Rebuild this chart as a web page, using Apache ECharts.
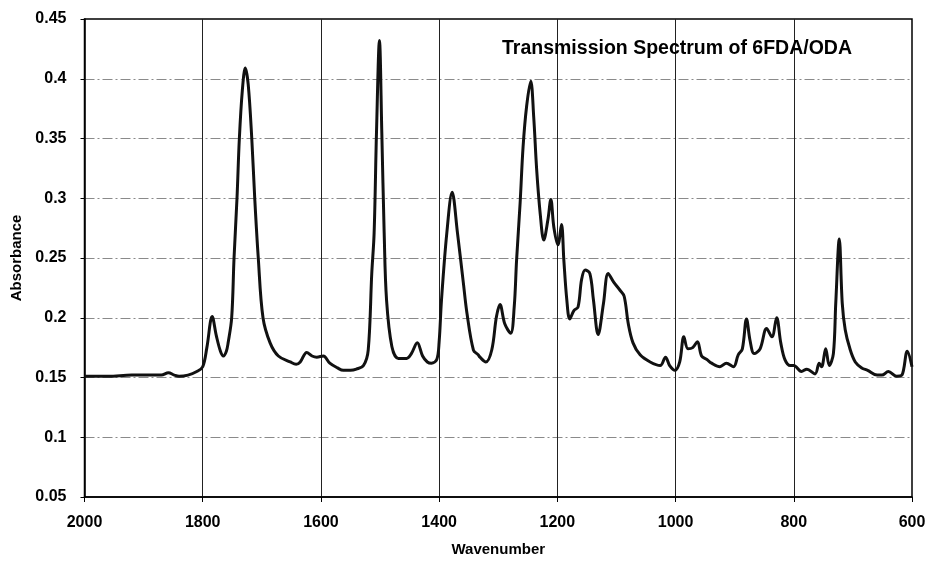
<!DOCTYPE html>
<html>
<head>
<meta charset="utf-8">
<script src="https://cdn.jsdelivr.net/npm/echarts@6/dist/echarts.min.js"></script>
<style>
html,body{margin:0;padding:0;background:#fff;}
#chart{width:925px;height:564px;}
</style>
</head>
<body>
<div id="chart"></div>
<script>
var chartTitle = "Transmission Spectrum of 6FDA/ODA";
var xAxisName = "Wavenumber";
var yAxisName = "Absorbance";

var wavenumbers = [2000,1960,1920,1890,1870,1858,1848,1840,1825,1810,1800,1793,1784,1777,1770,1765,1760,1757,1751,1747,1742,1738,1733,1728,1723,1717,1712,1706,1698,1686,1672,1652,1642,1635,1624,1615,1607,1596,1585,1572,1562,1550,1540,1528,1520,1514,1510,1506,1501,1497,1493,1489,1480,1469,1455,1447,1437,1428,1420,1413,1404,1400,1396,1387,1378,1369,1359,1353,1342,1334,1331,1321,1311,1303,1297,1289,1279,1273,1269,1263,1258,1252,1245,1240,1235,1229,1223,1216,1211,1206,1199,1193,1189,1184,1179,1172,1165,1159,1153,1145,1139,1131,1122,1114,1105,1094,1087,1080,1072,1060,1043,1026,1017,1010,1001,993,986,979,971,963,956,947,939,925,914,902,894,887,880,874,867,857,846,837,829,822,815,806,800,787,778,764,757,753,746,740,733,729,723,718,713,705,696,685,675,659,651,640,626,617,608,600];
var absorbance = [0.151,0.151,0.152,0.152,0.152,0.154,0.152,0.151,0.152,0.155,0.159,0.175,0.201,0.185,0.172,0.168,0.172,0.179,0.200,0.250,0.300,0.350,0.390,0.409,0.395,0.350,0.300,0.250,0.200,0.179,0.168,0.163,0.161,0.163,0.171,0.168,0.167,0.168,0.162,0.158,0.156,0.156,0.157,0.160,0.173,0.237,0.271,0.355,0.432,0.355,0.271,0.215,0.176,0.166,0.166,0.170,0.179,0.168,0.163,0.162,0.165,0.180,0.215,0.271,0.305,0.271,0.229,0.204,0.173,0.169,0.167,0.163,0.173,0.201,0.211,0.195,0.187,0.209,0.248,0.296,0.343,0.377,0.398,0.368,0.324,0.287,0.265,0.282,0.299,0.276,0.261,0.278,0.248,0.215,0.199,0.206,0.209,0.232,0.240,0.237,0.215,0.186,0.212,0.237,0.230,0.223,0.218,0.195,0.179,0.169,0.163,0.160,0.167,0.160,0.156,0.163,0.184,0.174,0.175,0.180,0.168,0.165,0.162,0.159,0.162,0.159,0.169,0.174,0.199,0.181,0.170,0.174,0.191,0.184,0.200,0.179,0.165,0.160,0.160,0.155,0.157,0.153,0.162,0.159,0.174,0.160,0.170,0.212,0.266,0.212,0.190,0.174,0.163,0.158,0.156,0.152,0.152,0.155,0.151,0.152,0.172,0.159];

var xMin = 600, xMax = 2000, xStep = 200;
var yMin = 0.05, yMax = 0.45, yStep = 0.05;

var seriesData = wavenumbers.map(function (w, i) { return [w, absorbance[i]]; });

var chart = echarts.init(document.getElementById('chart'), null, {renderer: 'canvas'});
var font = '"Liberation Sans", Arial, sans-serif';
chart.setOption({
  animation: false,
  backgroundColor: '#ffffff',
  title: {
    text: chartTitle,
    left: 672, top: 34, textAlign: 'center',
    textStyle: {fontFamily: font, fontWeight: 'bold', fontSize: 19.5, color: '#000'}
  },
  grid: {left: 84.5, right: 13, top: 19, bottom: 67, containLabel: false, outerBoundsMode: 'none',
    show: true, borderColor: '#000', borderWidth: 1.5, backgroundColor: 'transparent'},
  xAxis: {
    type: 'value', min: xMin, max: xMax, interval: xStep, inverse: true,
    name: xAxisName, nameLocation: 'middle', nameGap: 45,
    nameTextStyle: {fontFamily: font, fontWeight: 'bold', fontSize: 15, color: '#000'},
    axisLine: {show: true, lineStyle: {color: '#000', width: 1.5}},
    axisTick: {show: true, length: 5, lineStyle: {color: '#000'}},
    axisLabel: {fontFamily: font, fontWeight: 'bold', fontSize: 16, color: '#000', margin: 18,
      formatter: function (v) { return String(v); }},
    splitLine: {show: true, showMinLine: false, showMaxLine: false, lineStyle: {color: '#222', width: 1, type: 'solid'}}
  },
  yAxis: {
    type: 'value', min: yMin, max: yMax, interval: yStep,
    name: yAxisName, nameLocation: 'middle', nameGap: 60, nameRotate: 90,
    nameTextStyle: {fontFamily: font, fontWeight: 'bold', fontSize: 15, color: '#000'},
    axisLine: {show: true, lineStyle: {color: '#000', width: 1.5}},
    axisTick: {show: true, length: 4, lineStyle: {color: '#000'}},
    axisLabel: {fontFamily: font, fontWeight: 'bold', fontSize: 16, color: '#000', margin: 18,
      formatter: function (v) { return String(+v.toFixed(2)); }},
    splitLine: {show: true, showMinLine: false, showMaxLine: false, lineStyle: {color: '#8a8a8a', width: 1, type: [10, 3, 2, 3]}}
  },
  series: [{
    type: 'line', data: seriesData, showSymbol: false, smooth: 0.35,
    lineStyle: {color: '#111', width: 3}, z: 5
  }]
});
</script>
</body>
</html>
